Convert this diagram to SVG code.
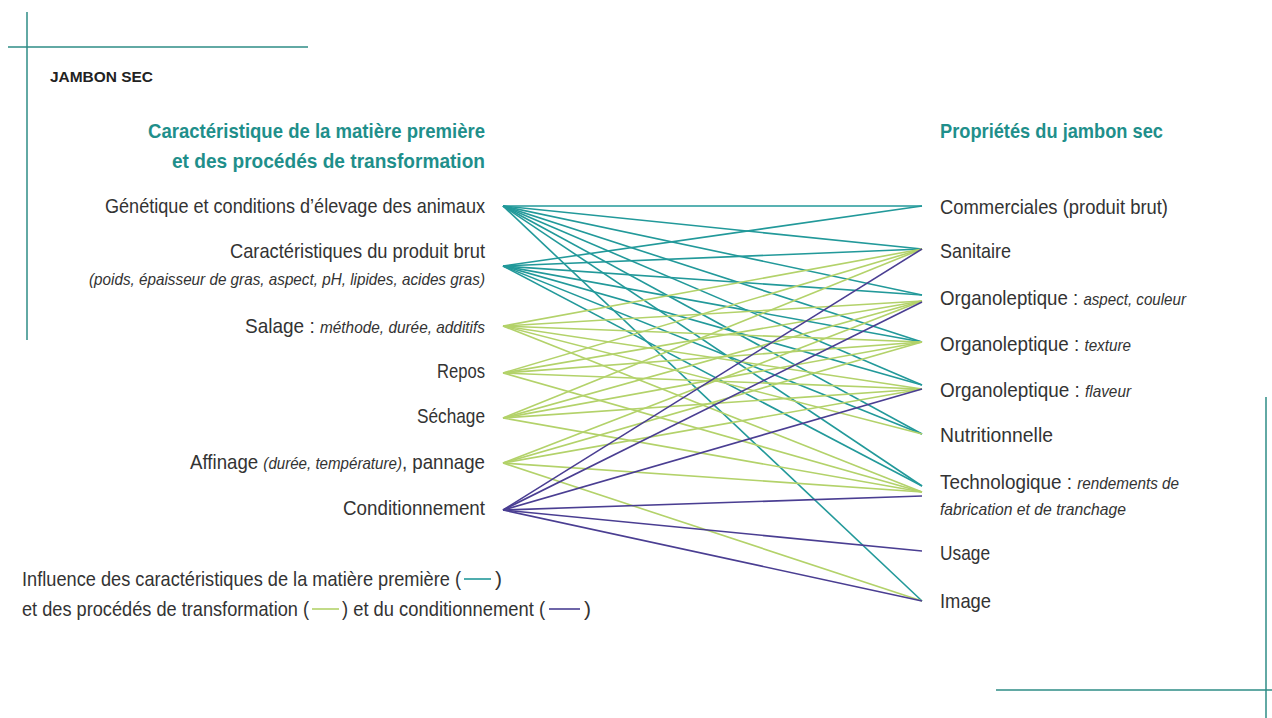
<svg xmlns="http://www.w3.org/2000/svg" width="1272" height="718" viewBox="0 0 1272 718">
<style>
.lbl{font-family:"Liberation Sans",Arial,sans-serif;font-size:21px;fill:#333;}
.it{font-style:italic;font-size:17px;}
.hd{font-family:"Liberation Sans",Arial,sans-serif;font-size:21px;font-weight:bold;fill:#1f8f8b;}
.ttl{font-family:"Liberation Sans",Arial,sans-serif;font-size:15px;font-weight:bold;fill:#222;}
.t{stroke:#22999a;stroke-width:1.6;fill:none;}
.g{stroke:#b3d26a;stroke-width:1.6;fill:none;}
.p{stroke:#4a3e92;stroke-width:1.6;fill:none;}
.frame{stroke:#2e8c86;stroke-width:1.5;fill:none;}
</style>
<rect width="1272" height="718" fill="#fff"/>
<g id="frame">
<line class="frame" x1="27" y1="12" x2="27" y2="340"/>
<line class="frame" x1="8" y1="47" x2="308" y2="47"/>
<line class="frame" x1="1266" y1="397" x2="1266" y2="718"/>
<line class="frame" x1="996" y1="690" x2="1272" y2="690"/>
</g>
<g id="title"><text class="ttl" x="50" y="82" textLength="103" lengthAdjust="spacingAndGlyphs">JAMBON SEC</text></g>
<g id="headers">
<text class="hd" x="148" y="138" textLength="337" lengthAdjust="spacingAndGlyphs">Caractéristique de la matière première</text>
<text class="hd" x="172" y="168" textLength="313" lengthAdjust="spacingAndGlyphs">et des procédés de transformation</text>
<text class="hd" x="940" y="138" textLength="223" lengthAdjust="spacingAndGlyphs">Propriétés du jambon sec</text>
</g>
<g id="connectors">
<line class="t" x1="503" y1="206" x2="922" y2="206"/>
<line class="t" x1="503" y1="206" x2="922" y2="249"/>
<line class="t" x1="503" y1="206" x2="922" y2="295"/>
<line class="t" x1="503" y1="206" x2="922" y2="342"/>
<line class="t" x1="503" y1="206" x2="922" y2="385"/>
<line class="t" x1="503" y1="206" x2="922" y2="434"/>
<line class="t" x1="503" y1="206" x2="922" y2="486"/>
<line class="t" x1="503" y1="206" x2="922" y2="601"/>
<line class="t" x1="503" y1="266" x2="922" y2="206"/>
<line class="t" x1="503" y1="266" x2="922" y2="249"/>
<line class="t" x1="503" y1="266" x2="922" y2="295"/>
<line class="t" x1="503" y1="266" x2="922" y2="342"/>
<line class="t" x1="503" y1="266" x2="922" y2="385"/>
<line class="t" x1="503" y1="266" x2="922" y2="434"/>
<line class="t" x1="503" y1="266" x2="922" y2="486"/>
<line class="g" x1="503" y1="326" x2="922" y2="249"/>
<line class="g" x1="503" y1="326" x2="922" y2="301"/>
<line class="g" x1="503" y1="326" x2="922" y2="342"/>
<line class="g" x1="503" y1="326" x2="922" y2="389"/>
<line class="g" x1="503" y1="326" x2="922" y2="434"/>
<line class="g" x1="503" y1="326" x2="922" y2="492"/>
<line class="g" x1="503" y1="373" x2="922" y2="249"/>
<line class="g" x1="503" y1="373" x2="922" y2="301"/>
<line class="g" x1="503" y1="373" x2="922" y2="342"/>
<line class="g" x1="503" y1="373" x2="922" y2="389"/>
<line class="g" x1="503" y1="373" x2="922" y2="492"/>
<line class="g" x1="503" y1="418" x2="922" y2="249"/>
<line class="g" x1="503" y1="418" x2="922" y2="301"/>
<line class="g" x1="503" y1="418" x2="922" y2="342"/>
<line class="g" x1="503" y1="418" x2="922" y2="389"/>
<line class="g" x1="503" y1="418" x2="922" y2="492"/>
<line class="g" x1="503" y1="463" x2="922" y2="301"/>
<line class="g" x1="503" y1="463" x2="922" y2="342"/>
<line class="g" x1="503" y1="463" x2="922" y2="389"/>
<line class="g" x1="503" y1="463" x2="922" y2="492"/>
<line class="g" x1="503" y1="463" x2="922" y2="601"/>
<line class="p" x1="503" y1="510" x2="922" y2="249"/>
<line class="p" x1="503" y1="510" x2="922" y2="302"/>
<line class="p" x1="503" y1="510" x2="922" y2="389"/>
<line class="p" x1="503" y1="510" x2="922" y2="496"/>
<line class="p" x1="503" y1="510" x2="922" y2="551"/>
<line class="p" x1="503" y1="510" x2="922" y2="601"/>
</g>
<g id="src-genetique"><text class="lbl" x="105" y="213" textLength="380" lengthAdjust="spacingAndGlyphs">Génétique et conditions d’élevage des animaux</text></g>
<g id="src-produit-brut">
<text class="lbl" x="230" y="258" textLength="255" lengthAdjust="spacingAndGlyphs">Caractéristiques du produit brut</text>
<text class="lbl it" x="89" y="285" textLength="396" lengthAdjust="spacingAndGlyphs">(poids, épaisseur de gras, aspect, pH, lipides, acides gras)</text>
</g>
<g id="src-salage"><text class="lbl" x="245" y="333" textLength="240" lengthAdjust="spacingAndGlyphs">Salage : <tspan class="it">méthode, durée, additifs</tspan></text></g>
<g id="src-repos"><text class="lbl" x="437" y="378" textLength="48" lengthAdjust="spacingAndGlyphs">Repos</text></g>
<g id="src-sechage"><text class="lbl" x="417" y="423" textLength="68" lengthAdjust="spacingAndGlyphs">Séchage</text></g>
<g id="src-affinage"><text class="lbl" x="190" y="469" textLength="295" lengthAdjust="spacingAndGlyphs">Affinage <tspan class="it">(durée, température)</tspan>, pannage</text></g>
<g id="src-conditionnement"><text class="lbl" x="343" y="515" textLength="142" lengthAdjust="spacingAndGlyphs">Conditionnement</text></g>
<g id="tgt-commerciales"><text class="lbl" x="940" y="214" textLength="228" lengthAdjust="spacingAndGlyphs">Commerciales (produit brut)</text></g>
<g id="tgt-sanitaire"><text class="lbl" x="940" y="258" textLength="71" lengthAdjust="spacingAndGlyphs">Sanitaire</text></g>
<g id="tgt-aspect"><text class="lbl" x="940" y="305" textLength="246" lengthAdjust="spacingAndGlyphs">Organoleptique : <tspan class="it">aspect, couleur</tspan></text></g>
<g id="tgt-texture"><text class="lbl" x="940" y="351" textLength="191" lengthAdjust="spacingAndGlyphs">Organoleptique : <tspan class="it">texture</tspan></text></g>
<g id="tgt-flaveur"><text class="lbl" x="940" y="397" textLength="191" lengthAdjust="spacingAndGlyphs">Organoleptique : <tspan class="it">flaveur</tspan></text></g>
<g id="tgt-nutritionnelle"><text class="lbl" x="940" y="442" textLength="113" lengthAdjust="spacingAndGlyphs">Nutritionnelle</text></g>
<g id="tgt-technologique">
<text class="lbl" x="940" y="489" textLength="239" lengthAdjust="spacingAndGlyphs">Technologique : <tspan class="it">rendements de</tspan></text>
<text class="lbl it" x="940" y="515" textLength="186" lengthAdjust="spacingAndGlyphs">fabrication et de tranchage</text>
</g>
<g id="tgt-usage"><text class="lbl" x="940" y="560" textLength="50" lengthAdjust="spacingAndGlyphs">Usage</text></g>
<g id="tgt-image"><text class="lbl" x="940" y="608" textLength="51" lengthAdjust="spacingAndGlyphs">Image</text></g>
<g id="legend">
<text class="lbl" x="22" y="586" textLength="439" lengthAdjust="spacingAndGlyphs">Influence des caractéristiques de la matière première (</text>
<line class="t" x1="464" y1="579" x2="491" y2="579" stroke-width="2.5"/>
<text class="lbl" x="495" y="586">)</text>
<text class="lbl" x="22" y="616" textLength="287" lengthAdjust="spacingAndGlyphs">et des procédés de transformation (</text>
<line class="g" x1="312" y1="609" x2="339" y2="609" stroke-width="2.5"/>
<text class="lbl" x="342" y="616" textLength="203" lengthAdjust="spacingAndGlyphs">) et du conditionnement (</text>
<line class="p" x1="549" y1="609" x2="580" y2="609" stroke-width="2.5"/>
<text class="lbl" x="584" y="616">)</text>
</g>
</svg>
